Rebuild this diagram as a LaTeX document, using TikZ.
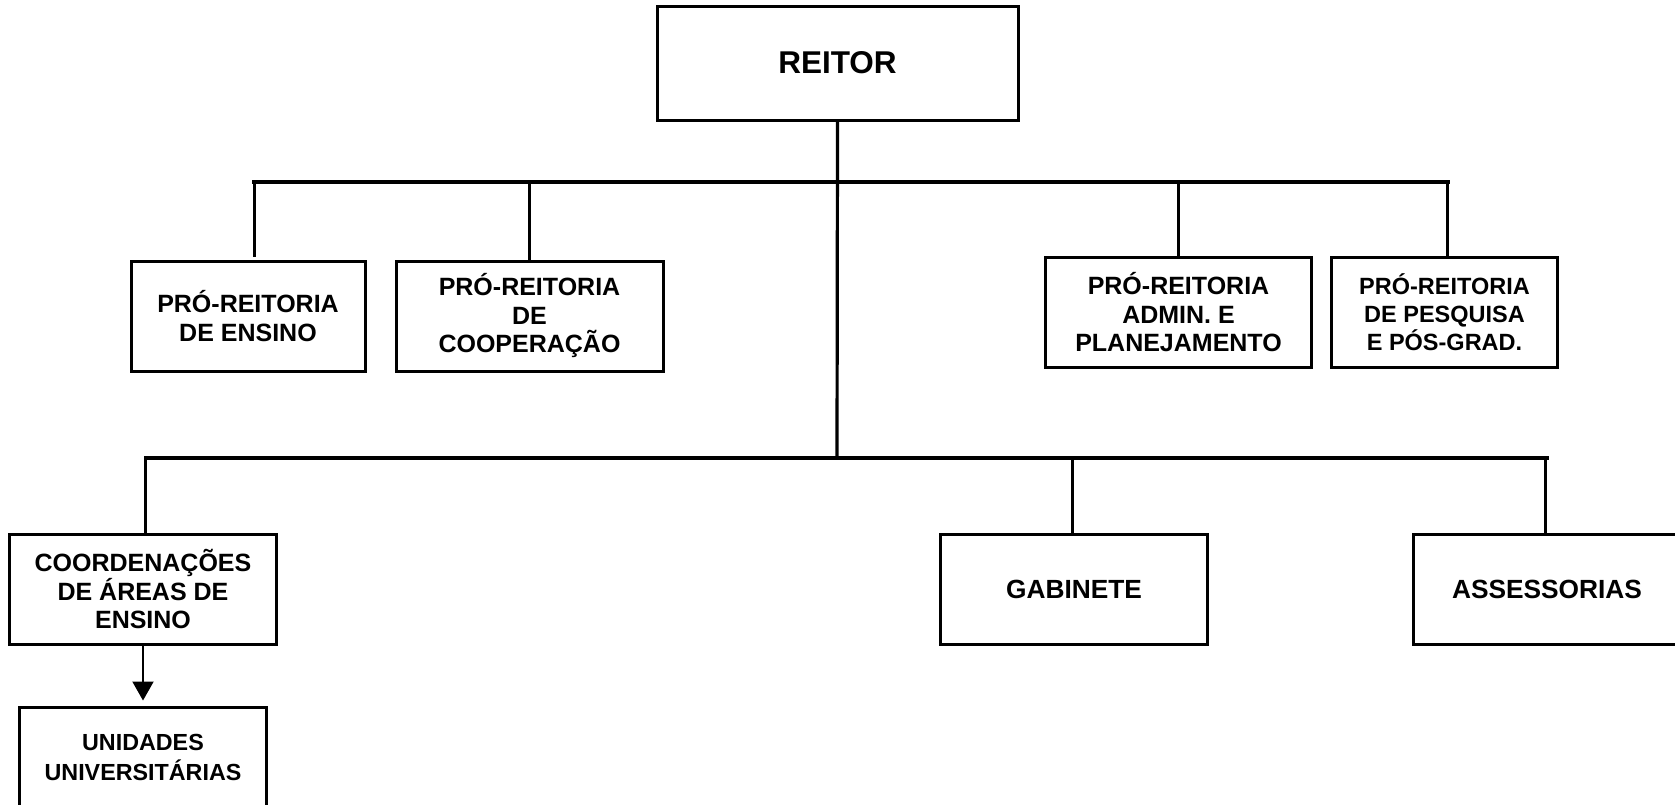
\documentclass[tikz,border=0pt]{standalone}
\usepackage{fontspec}
\setmainfont{Liberation Sans}
\usetikzlibrary{arrows.meta, positioning}

\begin{document}
\begin{tikzpicture}[x=1pt, y=-1pt, font=\bfseries\fontsize{25}{28.5}\selectfont,
    unit/.style={draw, line width=3pt, align=center, inner sep=0pt, minimum height=110pt},
    bus/.style={line width=4pt, line cap=rect},
    drop/.style={line width=3pt}]
    \clip (0,0) rectangle (1675,804);
    \node[unit, minimum width=361pt, minimum height=114pt, font=\bfseries\fontsize{31.5}{36}\selectfont] (reitor) at (837.5,63) {REITOR};
    \node[unit, minimum width=234pt] (ensino) at (248,316) {PRÓ-REITORIA\\DE ENSINO};
    \node[unit, minimum width=267pt, right=28pt of ensino] (coop) {PRÓ-REITORIA\\DE\\COOPERAÇÃO};
    \node[unit, minimum width=266pt] (admin) at (1178.5,312.5) {PRÓ-REITORIA\\ADMIN. E\\PLANEJAMENTO};
    \node[unit, minimum width=226pt, right=17pt of admin, font=\bfseries\fontsize{23.5}{28}\selectfont] (pesquisa) {PRÓ-REITORIA\\DE PESQUISA\\E PÓS-GRAD.};
    \node[unit, minimum width=267pt] (coord) at (143,589) {COORDENAÇÕES\\DE ÁREAS DE\\ENSINO};
    \node[unit, minimum width=247pt, minimum height=100pt, below=60pt of coord, font=\bfseries\fontsize{23.3}{30}\selectfont] (unid) {UNIDADES\\UNIVERSITÁRIAS};
    \node[unit, minimum width=267pt, font=\bfseries\fontsize{26.3}{30}\selectfont] (gab) at (1074,589) {GABINETE};
    \node[unit, minimum width=267pt, right=203pt of gab, font=\bfseries\fontsize{26.3}{30}\selectfont] (assess) {ASSESSORIAS};

    \coordinate (top) at (837,181.5);
    \coordinate (hub) at (837,457.5);
    \draw[line width=3.2pt] (reitor.south) -- (hub);
    % upper level
    \draw[bus] ([xshift=6pt]ensino.north |- top) -- ([xshift=3pt]pesquisa.north |- top);
    \draw[drop] ([xshift=6pt]ensino.north |- top) -- ([xshift=6pt,yshift=3pt]ensino.north);
    \draw[drop] ([xshift=3pt]pesquisa.north |- top) -- ([xshift=3pt]pesquisa.north);
    \foreach \n in {coop, admin}
        \draw[drop] (\n.north |- top) -- (\n.north);
    % lower level
    \draw[bus] ([xshift=2.5pt]coord.north |- hub) -- (assess.north |- hub);
    \draw[drop] ([xshift=2.5pt]coord.north |- hub) -- ([xshift=2.5pt]coord.north);
    \foreach \n in {gab, assess}
        \draw[drop] ([xshift=-2pt]\n.north |- hub) -- ([xshift=-2pt]\n.north);
    \draw[-{Triangle[length=19pt, width=21pt]}, line width=2pt, shorten >=5pt] (coord) -- (unid);
\end{tikzpicture}
\end{document}
